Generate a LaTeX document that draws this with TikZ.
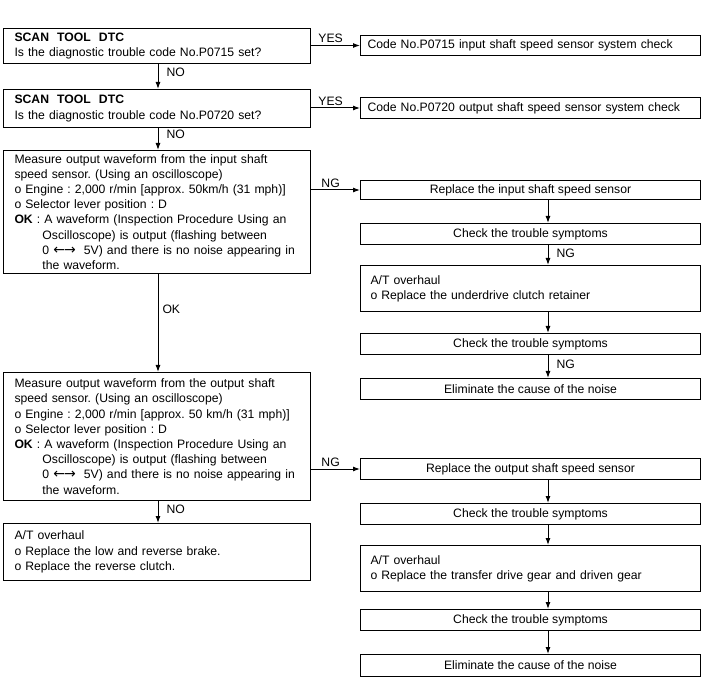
\documentclass[tikz,border=0pt]{standalone}
\usepackage{fontspec}
\setmainfont{Liberation Sans}
\newfontfamily\dv{DejaVu Sans}
\usetikzlibrary{arrows.meta}
\frenchspacing
\begin{document}
\begin{tikzpicture}[x=1pt,y=-1pt,
  font=\fontsize{12.2}{15.2}\selectfont,
  box/.style={draw, line width=1pt, inner sep=0pt, anchor=north west},
  arr/.style={-{Latex[length=7pt,width=5pt]}, line width=1pt},
  lab/.style={inner sep=2pt},
  rlab/.style={inner sep=0pt, right, xshift=8pt}]
\useasboundingbox (0,0) rectangle (720,700);
\coordinate (ax) at (548,0);
\coordinate (lx) at (158,0);

% left column
\node[box, minimum width=307pt, minimum height=35pt, text width=285pt, align=left] (b1) at (3,28)
  {\textbf{SCAN\ \ TOOL\ \ DTC}\\Is the diagnostic trouble code No.P0715 set?};
\node[box, minimum width=307pt, minimum height=38pt, text width=285pt, align=left] (b2) at (3,89)
  {\textbf{SCAN\ \ TOOL\ \ DTC}\\Is the diagnostic trouble code No.P0720 set?};
\node[box, minimum width=307pt, minimum height=123pt, text width=285pt, align=left] (b3) at (3,150)
  {Measure output waveform from the input shaft\\
   speed sensor. (Using an oscilloscope)\\
   o Engine : 2,000 r/min [approx. 50km/h (31 mph)]\\
   o Selector lever position : D\\
   \textbf{OK} : A waveform (Inspection Procedure Using an\\
   \hspace*{28pt}Oscilloscope) is output (flashing between\\
   \hspace*{28pt}0 {\dv\fontsize{14}{15}\selectfont ←\kern-1pt→}\ \ 5V) and there is no noise appearing in\\
   \hspace*{28pt}the waveform.};
\node[box, minimum width=307pt, minimum height=128pt, text width=285pt, align=left] (b4) at (3,372)
  {Measure output waveform from the output shaft\\
   speed sensor. (Using an oscilloscope)\\
   o Engine : 2,000 r/min [approx. 50 km/h (31 mph)]\\
   o Selector lever position : D\\
   \textbf{OK} : A waveform (Inspection Procedure Using an\\
   \hspace*{28pt}Oscilloscope) is output (flashing between\\
   \hspace*{28pt}0 {\dv\fontsize{14}{15}\selectfont ←\kern-1pt→}\ \ 5V) and there is no noise appearing in\\
   \hspace*{28pt}the waveform.};
\node[box, minimum width=307pt, minimum height=57pt, text width=285pt, align=left] (b5) at (3,523)
  {A/T overhaul\\
   o Replace the low and reverse brake.\\
   o Replace the reverse clutch.};

% right column
\node[box, minimum width=340pt, minimum height=20pt, text width=326pt, align=left] (c1) at (360,35)
  {Code No.P0715 input shaft speed sensor system check};
\node[box, minimum width=340pt, minimum height=21pt, text width=326pt, align=left] (c2) at (360,97)
  {Code No.P0720 output shaft speed sensor system check};

\node[box, minimum width=340pt, minimum height=19pt] (r1) at (360,180) {Replace the input shaft speed sensor};
\node[box, minimum width=340pt, minimum height=21pt] (r2) at (360,223) {Check the trouble symptoms};
\node[box, minimum width=340pt, minimum height=46pt, text width=320pt, align=left] (r3) at (360,265)
  {A/T overhaul\\o Replace the underdrive clutch retainer};
\node[box, minimum width=340pt, minimum height=21pt] (r4) at (360,333) {Check the trouble symptoms};
\node[box, minimum width=340pt, minimum height=21pt] (r5) at (360,378) {Eliminate the cause of the noise};

\node[box, minimum width=340pt, minimum height=21pt] (r6) at (360,458) {Replace the output shaft speed sensor};
\node[box, minimum width=340pt, minimum height=21pt] (r7) at (360,503) {Check the trouble symptoms};
\node[box, minimum width=340pt, minimum height=46pt, text width=320pt, align=left] (r8) at (360,545)
  {A/T overhaul\\o Replace the transfer drive gear and driven gear};
\node[box, minimum width=340pt, minimum height=21pt] (r9) at (360,609) {Check the trouble symptoms};
\node[box, minimum width=340pt, minimum height=22pt] (r10) at (360,654) {Eliminate the cause of the noise};

% connectors left
\draw[arr] (b1.south -| lx) -- node[rlab, pos=0.35] {NO} (b2.north -| lx);
\draw[arr] (b2.south -| lx) -- node[rlab, pos=0.3] {NO} (b3.north -| lx);
\draw[arr] (b3.south -| lx) -- node[rlab, pos=0.36, xshift=-4pt] {OK} (b4.north -| lx);
\draw[arr] (b4.south -| lx) -- node[rlab, pos=0.38] {NO} (b5.north -| lx);

\draw[arr] (b1.east |- c1.west) -- node[lab, above, pos=0.4] {YES} (c1.west);
\draw[arr] (b2.east |- c2.west) -- node[lab, above, pos=0.4] {YES} (c2.west);
\draw[arr] (b3.east |- r1.west) -- node[lab, above, pos=0.4] {NG} (r1.west);
\draw[arr] (b4.east |- r6.west) -- node[lab, above, pos=0.4] {NG} (r6.west);

% connectors right
\draw[arr] (r1.south -| ax) -- (r2.north -| ax);
\draw[arr] (r2.south -| ax) -- node[rlab, pos=0.4] {NG} (r3.north -| ax);
\draw[arr] (r3.south -| ax) -- (r4.north -| ax);
\draw[arr] (r4.south -| ax) -- node[rlab, pos=0.4] {NG} (r5.north -| ax);
\draw[arr] (r6.south -| ax) -- (r7.north -| ax);
\draw[arr] (r7.south -| ax) -- (r8.north -| ax);
\draw[arr] (r8.south -| ax) -- (r9.north -| ax);
\draw[arr] (r9.south -| ax) -- (r10.north -| ax);
\end{tikzpicture}
\end{document}
